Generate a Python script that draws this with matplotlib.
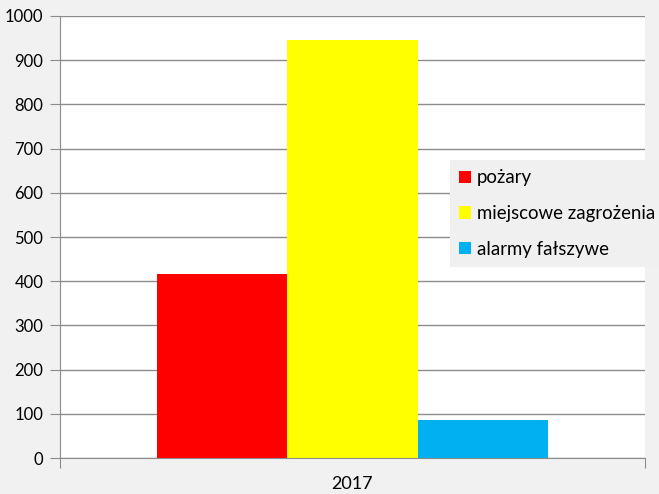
import matplotlib.pyplot as plt
from matplotlib.patches import Patch

plt.rcParams['font.family'] = ['Lato', 'DejaVu Sans']

years = ['2017']
labels = ['pożary', 'miejscowe zagrożenia', 'alarmy fałszywe']
values = [416, 946, 85]
colors = ['#ff0000', '#ffff00', '#00b0f0']

bg = '#f1f1f1'
fig = plt.figure(figsize=(6.59, 4.94), dpi=100, facecolor=bg)
ax = fig.add_axes([60/659, 1-458/494, 585/659, 442/494])
ax.set_facecolor('white')

w = 0.2228
for i, (v, c) in enumerate(zip(values, colors)):
    ax.bar(0 + (i-1)*w, v, width=w, color=c, zorder=2)

ax.set_xlim(-0.5, 0.5)
ax.set_ylim(0, 1000)
ax.set_yticks(range(0, 1001, 100))
ax.yaxis.grid(True, color='#8c8c8c', linewidth=1)
ax.set_axisbelow(True)
ax.set_xticks([-0.5, 0.5])
ax.set_xticklabels(['', ''])
ax.text(0, -0.04, years[0], transform=ax.get_xaxis_transform(), ha='center', va='top', fontsize=13)

for s in ['top', 'right']:
    ax.spines[s].set_visible(False)
for s in ['left', 'bottom']:
    ax.spines[s].set_color('#8c8c8c')
ax.tick_params(axis='y', length=7, color='#8c8c8c', labelsize=12, pad=5)
ax.tick_params(axis='x', length=7, color='#8c8c8c', labelsize=12)

handles = [Patch(facecolor=c, edgecolor='none') for c in colors]
leg = fig.legend(handles, labels, loc='upper left', bbox_to_anchor=(450/659, 1-160/494),
                 fontsize=13.4, frameon=True, fancybox=False, facecolor='#f0f0f0',
                 edgecolor='none', framealpha=1, handlelength=0.65, handleheight=0.65,
                 handletextpad=0.3, labelspacing=1.0, borderpad=0.5, borderaxespad=0)

fig.savefig('out.png', dpi=100, facecolor=bg)
